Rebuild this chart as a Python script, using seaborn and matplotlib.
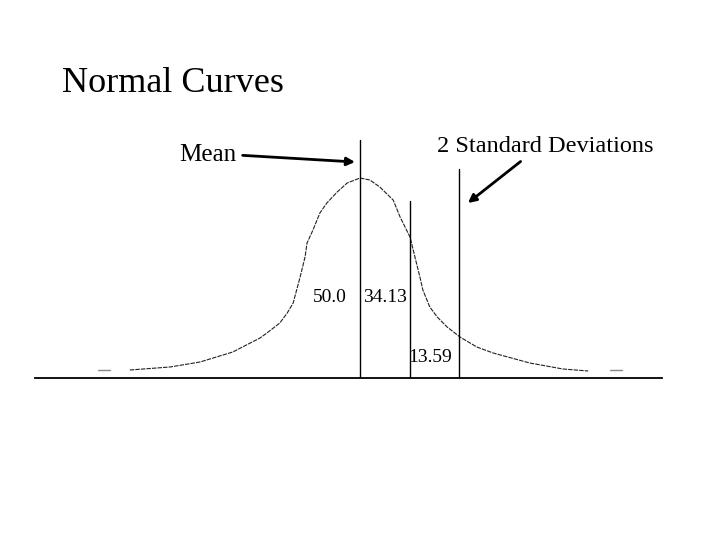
import matplotlib
matplotlib.use('Agg')
import matplotlib.pyplot as plt
import seaborn as sns
import pandas as pd

# curve: x in standard deviations, height relative to the peak
curve_z = [-4.65, -3.84, -3.23, -2.57, -2.02, -1.88, -1.62, -1.47, -1.35, -1.21,
           -1.11, -1.07, -0.95, -0.81, -0.67, -0.46, -0.26, 0.0, 0.20, 0.40,
           0.67, 0.81, 1.01, 1.11, 1.21, 1.27, 1.41, 1.56, 1.76, 2.02,
           2.36, 2.69, 3.43, 4.10, 4.61]
curve_h = [0.04, 0.055, 0.08, 0.13, 0.20, 0.225, 0.275, 0.325, 0.375, 0.505,
           0.605, 0.675, 0.74, 0.825, 0.875, 0.93, 0.975, 1.0, 0.99, 0.955,
           0.89, 0.805, 0.705, 0.605, 0.505, 0.44, 0.355, 0.305, 0.255, 0.205,
           0.155, 0.125, 0.075, 0.045, 0.035]

# vertical markers (mean, 1 sd, 2 sd) and their heights
line_z = [0, 1, 2]
line_top = [1.19, 0.885, 1.045]

# area labels
area_text = ['50.0', '34.13', '13.59']
area_z = [-0.61, 0.51, 1.41]
area_h = [0.405, 0.405, 0.105]

sns.set_style('white')
plt.rcParams['font.family'] = ['Liberation Serif', 'DejaVu Serif']
plt.rcParams['text.color'] = 'black'

fig = plt.figure(figsize=(7.2, 5.4), dpi=100)
ax = fig.add_axes([35 / 720, 0.3, 627 / 720, 248 / 540])

df = pd.DataFrame({'z': curve_z, 'h': curve_h})
sns.lineplot(data=df, x='z', y='h', ax=ax, color='#222222', lw=0.8,
             linestyle=(0, (4, 1)))

for z, top in zip(line_z, line_top):
    ax.plot([z, z], [0, top], color='black', lw=1)

# little grey ticks at the tails
ax.plot([-5.29, -5.05], [0.04, 0.04], color='#888888', lw=1)
ax.plot([5.05, 5.29], [0.04, 0.04], color='#888888', lw=1)

for t, z, h in zip(area_text, area_z, area_h):
    ax.text(z, h, t, ha='center', va='center', fontsize=14, color='black')

ax.annotate('Mean', xy=(-0.10, 1.08), xytext=(-3.07, 1.115),
            ha='center', va='center', fontsize=18, color='black',
            arrowprops=dict(arrowstyle='-|>', color='black', lw=2,
                            mutation_scale=12, relpos=(1, 0.5),
                            shrinkA=2, shrinkB=0))
ax.annotate('2 Standard Deviations', xy=(2.18, 0.875), xytext=(3.74, 1.16),
            ha='center', va='center', fontsize=17.5, color='black',
            arrowprops=dict(arrowstyle='-|>', color='black', lw=2,
                            mutation_scale=12, relpos=(0.416, 0),
                            shrinkA=2, shrinkB=0))

ax.set_xlim((35 - 360) / 49.5, (662 - 360) / 49.5)
ax.set_ylim(0, 1.24)
ax.set_xticks([])
ax.set_yticks([])
ax.set_xlabel('')
ax.set_ylabel('')
for s in ['top', 'left', 'right']:
    ax.spines[s].set_visible(False)
ax.spines['bottom'].set_color('black')
ax.spines['bottom'].set_linewidth(1.3)
ax.patch.set_alpha(0)

fig.text(62 / 720, 1 - 92 / 540, 'Normal Curves', fontsize=26,
         ha='left', va='baseline', color='black')

fig.savefig('out.png', dpi=100)
